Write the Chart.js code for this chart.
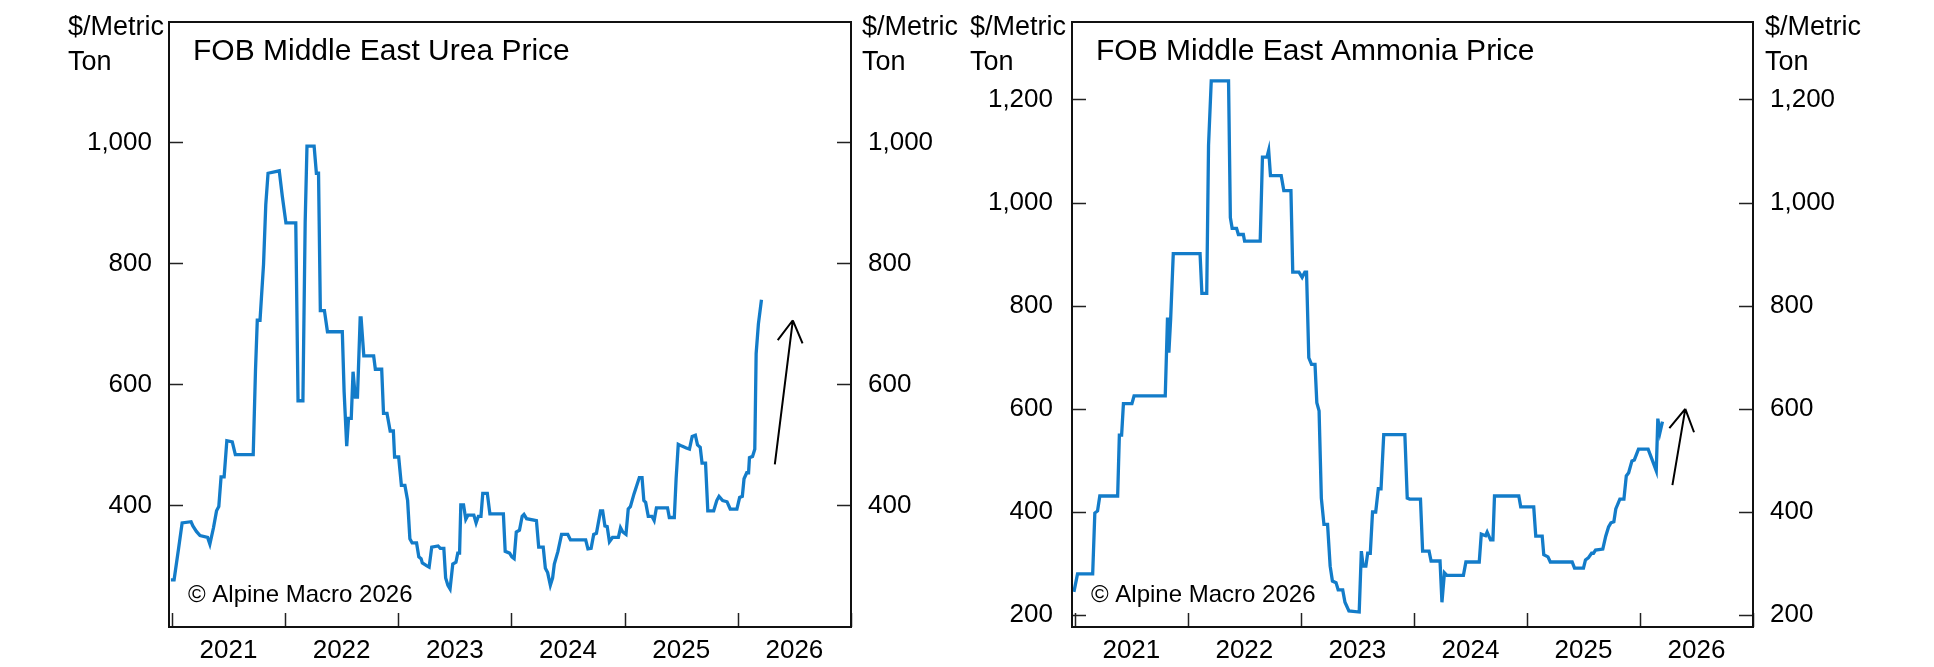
<!DOCTYPE html>
<html>
<head>
<meta charset="utf-8">
<title>FOB Middle East Urea and Ammonia Prices</title>
<script src="https://cdn.jsdelivr.net/npm/chart.js@4.4.1/dist/chart.umd.min.js"></script>
<style>
    html, body { margin: 0; padding: 0; background: #fff; }
    .panel { position: absolute; top: 0; width: 967px; height: 667px; }
    .panel canvas { display: block; }
</style>
</head>
<body>
<div class="panel" style="left:0"><canvas id="ureaChart" width="967" height="667"></canvas></div>
<div class="panel" style="left:967px"><canvas id="ammoniaChart" width="967" height="667"></canvas></div>
<script>
// --- DATA ---
const yearTicks = [2021, 2022, 2023, 2024, 2025, 2026, 2027];
const yearLabels = ['2021', '2022', '2023', '2024', '2025', '2026'];
const ureaTicks = [400, 600, 800, 1000];
const ammoniaTicks = [200, 400, 600, 800, 1000, 1200];

// dates as decimal years, prices in $/metric ton
const ureaDates = [
    2020.992, 2021.020, 2021.059, 2021.091, 2021.170, 2021.186, 2021.217, 2021.249, 2021.316, 2021.336,
    2021.368, 2021.395, 2021.415, 2021.435, 2021.462, 2021.486, 2021.534, 2021.561, 2021.719, 2021.739,
    2021.755, 2021.779, 2021.810, 2021.830, 2021.850, 2021.949, 2021.976, 2022.008, 2022.095, 2022.115,
    2022.158, 2022.178, 2022.194, 2022.257, 2022.277, 2022.296, 2022.312, 2022.348, 2022.375, 2022.506,
    2022.522, 2022.545, 2022.561, 2022.585, 2022.601, 2022.621, 2022.640, 2022.664, 2022.672, 2022.696,
    2022.783, 2022.798, 2022.854, 2022.870, 2022.901, 2022.929, 2022.957, 2022.968, 2023.004, 2023.028,
    2023.059, 2023.083, 2023.103, 2023.123, 2023.162, 2023.182, 2023.202, 2023.213, 2023.253, 2023.273,
    2023.296, 2023.352, 2023.372, 2023.403, 2023.419, 2023.439, 2023.458, 2023.482, 2023.510, 2023.526,
    2023.542, 2023.553, 2023.577, 2023.597, 2023.617, 2023.668, 2023.688, 2023.708, 2023.731, 2023.747,
    2023.787, 2023.810, 2023.929, 2023.945, 2023.984, 2024.004, 2024.024, 2024.043, 2024.071, 2024.095,
    2024.111, 2024.134, 2024.221, 2024.241, 2024.281, 2024.300, 2024.320, 2024.344, 2024.364, 2024.379,
    2024.411, 2024.443, 2024.498, 2024.522, 2024.656, 2024.676, 2024.704, 2024.727, 2024.751, 2024.787,
    2024.806, 2024.826, 2024.846, 2024.866, 2024.893, 2024.945, 2024.964, 2024.984, 2025.012, 2025.032,
    2025.051, 2025.083, 2025.130, 2025.154, 2025.170, 2025.186, 2025.209, 2025.241, 2025.261, 2025.281,
    2025.379, 2025.395, 2025.439, 2025.455, 2025.474, 2025.506, 2025.545, 2025.573, 2025.597, 2025.625,
    2025.644, 2025.668, 2025.684, 2025.715, 2025.735, 2025.787, 2025.814, 2025.834, 2025.866, 2025.905,
    2025.933, 2025.992, 2026.016, 2026.040, 2026.055, 2026.079, 2026.095, 2026.103, 2026.130, 2026.150,
    2026.162, 2026.182, 2026.209
];
const ureaPrices = [
    277, 277, 328, 371, 373, 366, 357, 350, 347, 336,
    363, 391, 398, 447, 447, 507, 505, 484, 484, 623,
    706, 706, 798, 897, 949, 953, 911, 867, 867, 573,
    573, 868, 994, 994, 949, 949, 722, 722, 687, 687,
    588, 498, 544, 544, 621, 579, 579, 710, 710, 647,
    647, 625, 625, 552, 552, 523, 523, 480, 480, 433,
    433, 408, 345, 338, 338, 315, 312, 305, 300, 298,
    331, 333, 329, 329, 280, 268, 262, 303, 306, 321,
    321, 401, 401, 377, 384, 384, 371, 382, 382, 420,
    420, 386, 386, 324, 321, 315, 312, 356, 359, 382,
    385, 378, 375, 331, 331, 296, 289, 268, 280, 303,
    324, 352, 352, 343, 343, 328, 329, 352, 354, 391,
    391, 366, 365, 340, 347, 347, 363, 356, 352, 394,
    398, 419, 446, 446, 408, 405, 382, 382, 375, 396,
    396, 380, 380, 444, 501, 498, 495, 493, 514, 516,
    500, 496, 470, 470, 391, 391, 408, 415, 408, 406,
    394, 394, 413, 415, 444, 454, 454, 479, 481, 493,
    651, 700, 740
];

const ammoniaDates = [
    2020.992, 2021.024, 2021.158, 2021.177, 2021.201, 2021.221, 2021.379, 2021.394, 2021.414, 2021.430,
    2021.505, 2021.524, 2021.800, 2021.820, 2021.832, 2021.848, 2021.871, 2022.108, 2022.124, 2022.167,
    2022.183, 2022.207, 2022.360, 2022.376, 2022.392, 2022.431, 2022.447, 2022.491, 2022.502, 2022.640,
    2022.660, 2022.700, 2022.715, 2022.731, 2022.826, 2022.849, 2022.912, 2022.928, 2022.983, 2023.011,
    2023.035, 2023.050, 2023.070, 2023.094, 2023.125, 2023.141, 2023.161, 2023.181, 2023.204, 2023.236,
    2023.259, 2023.279, 2023.311, 2023.330, 2023.370, 2023.390, 2023.425, 2023.516, 2023.535, 2023.551,
    2023.575, 2023.591, 2023.614, 2023.634, 2023.662, 2023.685, 2023.709, 2023.733, 2023.920, 2023.941,
    2023.962, 2024.058, 2024.077, 2024.134, 2024.152, 2024.231, 2024.248, 2024.270, 2024.292, 2024.438,
    2024.460, 2024.578, 2024.596, 2024.634, 2024.648, 2024.678, 2024.699, 2024.713, 2024.928, 2024.945,
    2025.060, 2025.078, 2025.135, 2025.149, 2025.186, 2025.207, 2025.400, 2025.421, 2025.500, 2025.518,
    2025.543, 2025.572, 2025.589, 2025.607, 2025.671, 2025.697, 2025.722, 2025.743, 2025.769, 2025.786,
    2025.822, 2025.858, 2025.879, 2025.900, 2025.929, 2025.950, 2025.987, 2026.072, 2026.108, 2026.144,
    2026.158, 2026.177, 2026.199
];
const ammoniaPrices = [
    245, 280, 280, 398, 402, 431, 431, 549, 549, 610,
    610, 625, 625, 777, 709, 775, 901, 901, 824, 824,
    1111, 1236, 1236, 971, 950, 950, 938, 938, 925, 925,
    1088, 1088, 1101, 1052, 1052, 1023, 1023, 865, 865, 855,
    865, 865, 699, 686, 686, 612, 596, 427, 376, 376,
    295, 266, 263, 249, 249, 225, 208, 206, 324, 295,
    295, 320, 320, 400, 400, 445, 445, 550, 550, 427,
    425, 425, 324, 324, 305, 305, 225, 282, 277, 277,
    303, 303, 357, 354, 361, 346, 346, 431, 431, 410,
    410, 353, 353, 317, 313, 303, 303, 291, 291, 307,
    311, 320, 320, 326, 328, 353, 371, 379, 381, 406,
    425, 425, 470, 476, 499, 501, 522, 522, 501, 480,
    581, 554, 575
];

// --- STYLE ---
const FONT = '"Liberation Sans", Arial, sans-serif';
const LINE_BLUE = '#137cc9';
Chart.defaults.font.family = FONT;
Chart.defaults.color = '#000';

// frame, inward tick marks, titles and the arrow
const decorPlugin = {
    id: 'decor',
    afterDraw(chart, args, opts) {
        const { ctx, chartArea: a, scales } = chart;
        const sx = scales.x, sy = scales.y;
        ctx.save();

        ctx.strokeStyle = '#222';
        ctx.lineWidth = 1.5;
        ctx.beginPath();
        sy.ticks.forEach(t => {
            const py = Math.round(sy.getPixelForValue(t.value)) + 0.5;
            ctx.moveTo(a.left, py); ctx.lineTo(a.left + 14, py);
            ctx.moveTo(a.right, py); ctx.lineTo(a.right - 14, py);
        });
        yearTicks.forEach(v => {
            const px = Math.round(sx.getPixelForValue(v)) + 0.5;
            ctx.moveTo(px, a.bottom); ctx.lineTo(px, a.bottom - 14);
        });
        ctx.stroke();

        ctx.strokeStyle = '#111';
        ctx.lineWidth = 2;
        ctx.strokeRect(a.left, a.top, a.right - a.left, a.bottom - a.top);

        ctx.fillStyle = '#000';
        ctx.textBaseline = 'alphabetic';
        ctx.textAlign = 'left';
        ctx.font = '30px ' + FONT;
        ctx.fillText(opts.title, a.left + 24, 60);
        ctx.font = '24px ' + FONT;
        ctx.fillText('\u00a9 Alpine Macro 2026', a.left + 19, 602);
        ctx.font = '27px ' + FONT;
        [opts.unitLeftX, opts.unitRightX].forEach(x => {
            ctx.fillText('$/Metric', x, 35);
            ctx.fillText('Ton', x, 70);
        });

        // arrow
        const x0 = sx.getPixelForValue(opts.arrowFrom[0]), y0 = sy.getPixelForValue(opts.arrowFrom[1]);
        const x1 = sx.getPixelForValue(opts.arrowTo[0]), y1 = sy.getPixelForValue(opts.arrowTo[1]);
        const ang = Math.atan2(y1 - y0, x1 - x0);
        ctx.strokeStyle = '#000';
        ctx.lineWidth = 2;
        ctx.beginPath();
        ctx.moveTo(x0, y0); ctx.lineTo(x1, y1);
        [-Math.PI / 6, Math.PI / 6].forEach(d => {
            ctx.moveTo(x1, y1);
            ctx.lineTo(x1 - 25 * Math.cos(ang + d), y1 - 25 * Math.sin(ang + d));
        });
        ctx.stroke();

        ctx.restore();
    }
};

function yAxis(position, tickValues, range, width, padding) {
    return {
        type: 'linear',
        position: position,
        min: range[0],
        max: range[1],
        afterBuildTicks: axis => { axis.ticks = tickValues.map(v => ({ value: v })); },
        afterFit: axis => { axis.width = width; axis.paddingTop = 0; axis.paddingBottom = 0; },
        ticks: { callback: v => v.toLocaleString('en-US'), padding: padding, font: { size: 26 }, color: '#000' },
        grid: { display: false, drawTicks: false },
        border: { display: false }
    };
}

function makeChart(canvasId, dates, prices, cfg) {
    const ctx = document.getElementById(canvasId).getContext('2d');
    return new Chart(ctx, {
        type: 'line',
        data: {
            datasets: [{
                data: dates.map((d, i) => ({ x: d, y: prices[i] })),
                borderColor: LINE_BLUE,
                borderWidth: 3.3,
                pointRadius: 0,
                tension: 0,
                yAxisID: 'y'
            }]
        },
        options: {
            responsive: false,
            animation: false,
            layout: { padding: { top: 22, left: 0, right: 0, bottom: 0 } },
            plugins: {
                legend: { display: false },
                tooltip: { enabled: false },
                decor: cfg.decor
            },
            scales: {
                x: {
                    type: 'linear',
                    min: 2020.975,
                    max: 2027.0,
                    afterBuildTicks: axis => { axis.ticks = yearLabels.map((l, i) => ({ value: yearTicks[i] + 0.5 })); },
                    afterFit: axis => { axis.height = 40; axis.paddingLeft = 0; axis.paddingRight = 0; },
                    ticks: { callback: (v, i) => yearLabels[i], padding: 8, font: { size: 26 }, color: '#000', maxRotation: 0, autoSkip: false },
                    grid: { display: false, drawTicks: false },
                    border: { display: false }
                },
                y: yAxis('left', cfg.ticks, cfg.range, cfg.leftWidth, cfg.leftPad),
                y2: yAxis('right', cfg.ticks, cfg.range, cfg.rightWidth, 17)
            }
        },
        plugins: [decorPlugin]
    });
}

makeChart('ureaChart', ureaDates, ureaPrices, {
    ticks: ureaTicks,
    range: [199, 1199],
    leftWidth: 169,
    rightWidth: 116,
    leftPad: 17,
    decor: {
        title: 'FOB Middle East Urea Price',
        unitLeftX: 68,
        unitRightX: 862,
        arrowFrom: [2026.327, 468],
        arrowTo: [2026.486, 706]
    }
});

makeChart('ammoniaChart', ammoniaDates, ammoniaPrices, {
    ticks: ammoniaTicks,
    range: [177, 1350],
    leftWidth: 105,
    rightWidth: 181,
    leftPad: 19,
    decor: {
        title: 'FOB Middle East Ammonia Price',
        unitLeftX: 3,
        unitRightX: 798,
        arrowFrom: [2026.287, 452],
        arrowTo: [2026.401, 600]
    }
});
</script>
</body>
</html>
